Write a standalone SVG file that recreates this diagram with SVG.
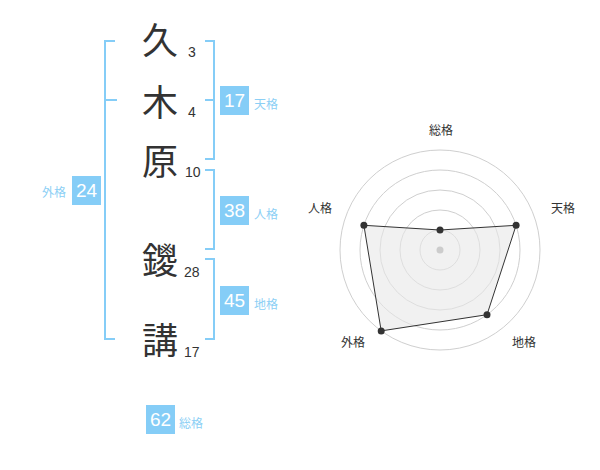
<svg xmlns="http://www.w3.org/2000/svg" width="600" height="470" viewBox="0 0 600 470">
<style>
.ch{font-family:"Noto Sans CJK JP","Noto Sans CJK SC",sans-serif;font-size:36px;fill:#333;text-anchor:middle}
.st{font-family:"Liberation Sans",Arial,sans-serif;font-size:14px;fill:#333}
.br{fill:none;stroke:#85cdf7;stroke-width:2}
.box{fill:#85cdf7}
.bn{font-family:"Liberation Sans",Arial,sans-serif;font-size:19px;fill:#fff;text-anchor:middle}
.bl{font-family:"Noto Sans CJK JP",sans-serif;font-size:12px;fill:#8ccff5}
.ring{fill:none;stroke:#cfcfcf;stroke-width:1}
.rl{font-family:"Noto Sans CJK JP",sans-serif;font-size:12px;fill:#333;text-anchor:middle}
.pt{fill:#333}
</style>
<rect width="600" height="470" fill="#fff"/>
<g id="chars">
<g id="c1"><text class="ch" x="160" y="54">久</text><text class="st" x="188" y="57">3</text></g>
<g id="c2"><text class="ch" x="160" y="116">木</text><text class="st" x="188" y="117">4</text></g>
<g id="c3"><text class="ch" x="160" y="175">原</text><text class="st" x="185" y="177">10</text></g>
<g id="c4"><text class="ch" x="160" y="274">鑁</text><text class="st" x="184" y="277">28</text></g>
<g id="c5"><text class="ch" x="160" y="354">講</text><text class="st" x="184" y="357">17</text></g>
</g>
<g id="connectors">
<path class="br" d="M115,41 H105 V339 H115 M105,100 H117"/>
<path class="br" d="M205,41 H214 V159 H205 M205,100 H214"/>
<path class="br" d="M205,170 H214 V249 H205"/>
<path class="br" d="M205,259 H214 V339 H205"/>
</g>
<g id="tenkaku"><rect class="box" x="220" y="86" width="29" height="29"/><text class="bn" x="234.5" y="107">17</text><text class="bl" x="254" y="109">天格</text></g>
<g id="jinkaku"><rect class="box" x="220" y="196" width="29" height="29"/><text class="bn" x="234.5" y="217">38</text><text class="bl" x="254" y="219">人格</text></g>
<g id="chikaku"><rect class="box" x="220" y="286" width="29" height="29"/><text class="bn" x="234.5" y="307">45</text><text class="bl" x="254" y="309">地格</text></g>
<g id="gaikaku"><rect class="box" x="72" y="176" width="29" height="29"/><text class="bn" x="86.5" y="197">24</text><text class="bl" x="66" y="197" text-anchor="end">外格</text></g>
<g id="soukaku"><rect class="box" x="146" y="405" width="29" height="29"/><text class="bn" x="160.5" y="426">62</text><text class="bl" x="179" y="428">総格</text></g>
<g id="radar">
<circle class="ring" cx="440" cy="250" r="20"/>
<circle class="ring" cx="440" cy="250" r="40"/>
<circle class="ring" cx="440" cy="250" r="60"/>
<circle class="ring" cx="440" cy="250" r="80"/>
<circle class="ring" cx="440" cy="250" r="100"/>
<polygon points="440,230 516.1,225.3 487,314.7 381.2,330.9 363.9,225.3" fill="#e8e8e8" fill-opacity="0.6" stroke="#333" stroke-width="1"/>
<circle cx="440" cy="250" r="3.5" fill="#ccc"/>
<circle class="pt" cx="440" cy="230" r="3.5"/>
<circle class="pt" cx="516.1" cy="225.3" r="3.5"/>
<circle class="pt" cx="487" cy="314.7" r="3.5"/>
<circle class="pt" cx="381.2" cy="330.9" r="3.5"/>
<circle class="pt" cx="363.9" cy="225.3" r="3.5"/>
<text class="rl" x="441" y="135">総格</text>
<text class="rl" x="563" y="213">天格</text>
<text class="rl" x="524" y="347">地格</text>
<text class="rl" x="353" y="347">外格</text>
<text class="rl" x="320" y="213">人格</text>
</g>
</svg>
